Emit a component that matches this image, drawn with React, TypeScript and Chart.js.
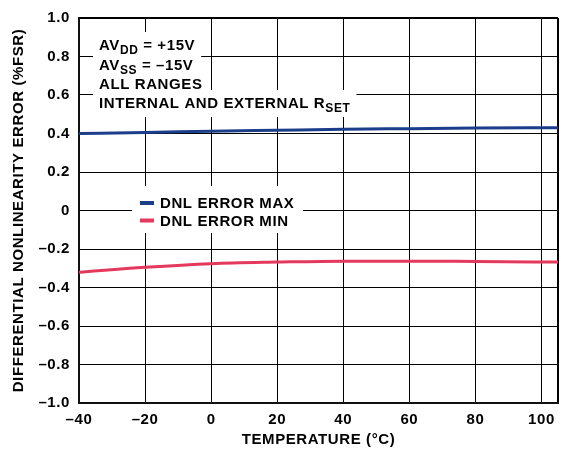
import React, { useEffect, useRef } from "react";
import { Chart, registerables } from "chart.js";

Chart.register(...registerables);

const temps = [-40, -20, 0, 20, 40, 60, 80, 105];
const dnlMax = [0.4, 0.405, 0.412, 0.417, 0.422, 0.425, 0.428, 0.43];
const dnlMin = [-0.321, -0.295, -0.276, -0.268, -0.263, -0.263, -0.265, -0.268];
const xTicks = [-40, -20, 0, 20, 40, 60, 80, 100, 105];
const seriesLabels = ["DNL ERROR MAX", "DNL ERROR MIN"];
const seriesColors = ["#1b3d8a", "#e5385d"];

const FONT = "'Liberation Sans', Arial, Helvetica, sans-serif";
const SPACING = "0.6px";

const dash = (v: number, s: string) => (v < 0 ? "\u2013" : "") + s;

const annotationPlugin = {
  id: "annot",
  beforeDraw(chart: any) {
    chart.ctx.letterSpacing = SPACING;
  },
  beforeDatasetsDraw(chart: any) {
    const ctx = chart.ctx;
    const a = chart.chartArea;
    ctx.save();
    ctx.letterSpacing = SPACING;
    const big = `bold 15px ${FONT}`;
    const small = `bold 12px ${FONT}`;
    const x0 = a.left + 20;
    const lines: [string, string, string][] = [
      ["AV", "DD", " = +15V"],
      ["AV", "SS", " = \u201315V"],
      ["ALL RANGES", "", ""],
      ["INTERNAL AND EXTERNAL R", "SET", ""],
    ];
    const baselines = [50, 70, 89, 108];
    lines.forEach((ln, i) => {
      ctx.font = big;
      const w1 = ctx.measureText(ln[0]).width;
      const w3 = ctx.measureText(ln[2]).width;
      ctx.font = small;
      const w2 = ln[1] ? ctx.measureText(ln[1]).width : 0;
      const total = w1 + w2 + w3;
      const b = baselines[i];
      ctx.fillStyle = "#fff";
      ctx.fillRect(x0 - 6, b - 18, total + 12, 27);
    });
    lines.forEach((ln, i) => {
      const b = baselines[i];
      ctx.fillStyle = "#000";
      ctx.textBaseline = "alphabetic";
      ctx.textAlign = "left";
      ctx.font = big;
      ctx.fillText(ln[0], x0, b);
      let x = x0 + ctx.measureText(ln[0]).width;
      if (ln[1]) {
        ctx.font = small;
        ctx.fillText(ln[1], x, b + 4);
        x += ctx.measureText(ln[1]).width;
      }
      ctx.font = big;
      ctx.fillText(ln[2], x, b);
    });

    // legend
    const lx = a.left + 53;
    const ly = a.top + 168;
    ctx.fillStyle = "#fff";
    ctx.fillRect(lx, ly, 171, 47);
    seriesLabels.forEach((lab, i) => {
      const yy = ly + 17 + i * 17.5;
      ctx.strokeStyle = seriesColors[i];
      ctx.lineWidth = 4;
      ctx.beginPath();
      ctx.moveTo(lx + 8, yy);
      ctx.lineTo(lx + 22, yy);
      ctx.stroke();
      ctx.fillStyle = "#000";
      ctx.font = big;
      ctx.textBaseline = "middle";
      ctx.fillText(lab, lx + 28, yy + 1);
    });
    ctx.restore();
  },
};

export default function App() {
  const ref = useRef<HTMLCanvasElement>(null);
  useEffect(() => {
    if (!ref.current) return;
    Chart.defaults.font.family = FONT;
    Chart.defaults.font.weight = "bold";
    Chart.defaults.font.size = 15;
    Chart.defaults.color = "#000";
    const chart = new Chart(ref.current, {
      type: "line",
      data: {
        datasets: [
          {
            label: seriesLabels[0],
            data: temps.map((t, i) => ({ x: t, y: dnlMax[i] })),
            borderColor: seriesColors[0],
            borderWidth: 3,
            pointRadius: 0,
            cubicInterpolationMode: "monotone",
          },
          {
            label: seriesLabels[1],
            data: temps.map((t, i) => ({ x: t, y: dnlMin[i] })),
            borderColor: seriesColors[1],
            borderWidth: 3,
            pointRadius: 0,
            cubicInterpolationMode: "monotone",
          },
        ],
      },
      options: {
        animation: false,
        responsive: false,
        layout: { padding: { top: 17, right: 8, left: 0, bottom: 0 } },
        plugins: { legend: { display: false }, tooltip: { enabled: false } },
        scales: {
          x: {
            type: "linear",
            min: -40,
            max: 105,
            afterFit: (s: any) => {
              s.height = 51;
            },
            afterBuildTicks: (s: any) => {
              s.ticks = xTicks.map((v) => ({ value: v }));
            },
            ticks: {
              padding: 8,
              autoSkip: false,
              maxRotation: 0,
              callback: (v: any) => (v === 105 ? "" : dash(v, String(Math.abs(v)))),
            },
            grid: {
              color: "#000",
              lineWidth: (c: any) => (c.tick && c.tick.value === 105 ? 2 : 1),
              drawTicks: false,
            },
            border: { color: "#111", width: 2 },
            title: {
              display: true,
              text: "TEMPERATURE (\u00B0C)",
              padding: { top: 0, bottom: 5 },
            },
          },
          y: {
            min: -1,
            max: 1,
            afterFit: (s: any) => {
              s.width = 79;
            },
            ticks: {
              stepSize: 0.2,
              padding: 9,
              callback: (v: any) =>
                Math.abs(v) < 1e-9 ? "0" : dash(v, Math.abs(v).toFixed(1)),
            },
            grid: {
              color: "#000",
              lineWidth: (c: any) => (c.tick && Math.abs(c.tick.value - 1) < 1e-9 ? 2 : 1),
              drawTicks: false,
            },
            border: { color: "#111", width: 2 },
            title: {
              display: true,
              text: "DIFFERENTIAL NONLINEARITY ERROR (%FSR)",
              padding: { top: 10, bottom: 0 },
            },
          },
        },
      },
      plugins: [annotationPlugin],
    } as any);
    return () => chart.destroy();
  }, []);
  return (
    <div style={{ position: "absolute", left: 0, top: 0, width: 566, height: 454, background: "#fff" }}>
      <canvas ref={ref} width={566} height={454} />
    </div>
  );
}
